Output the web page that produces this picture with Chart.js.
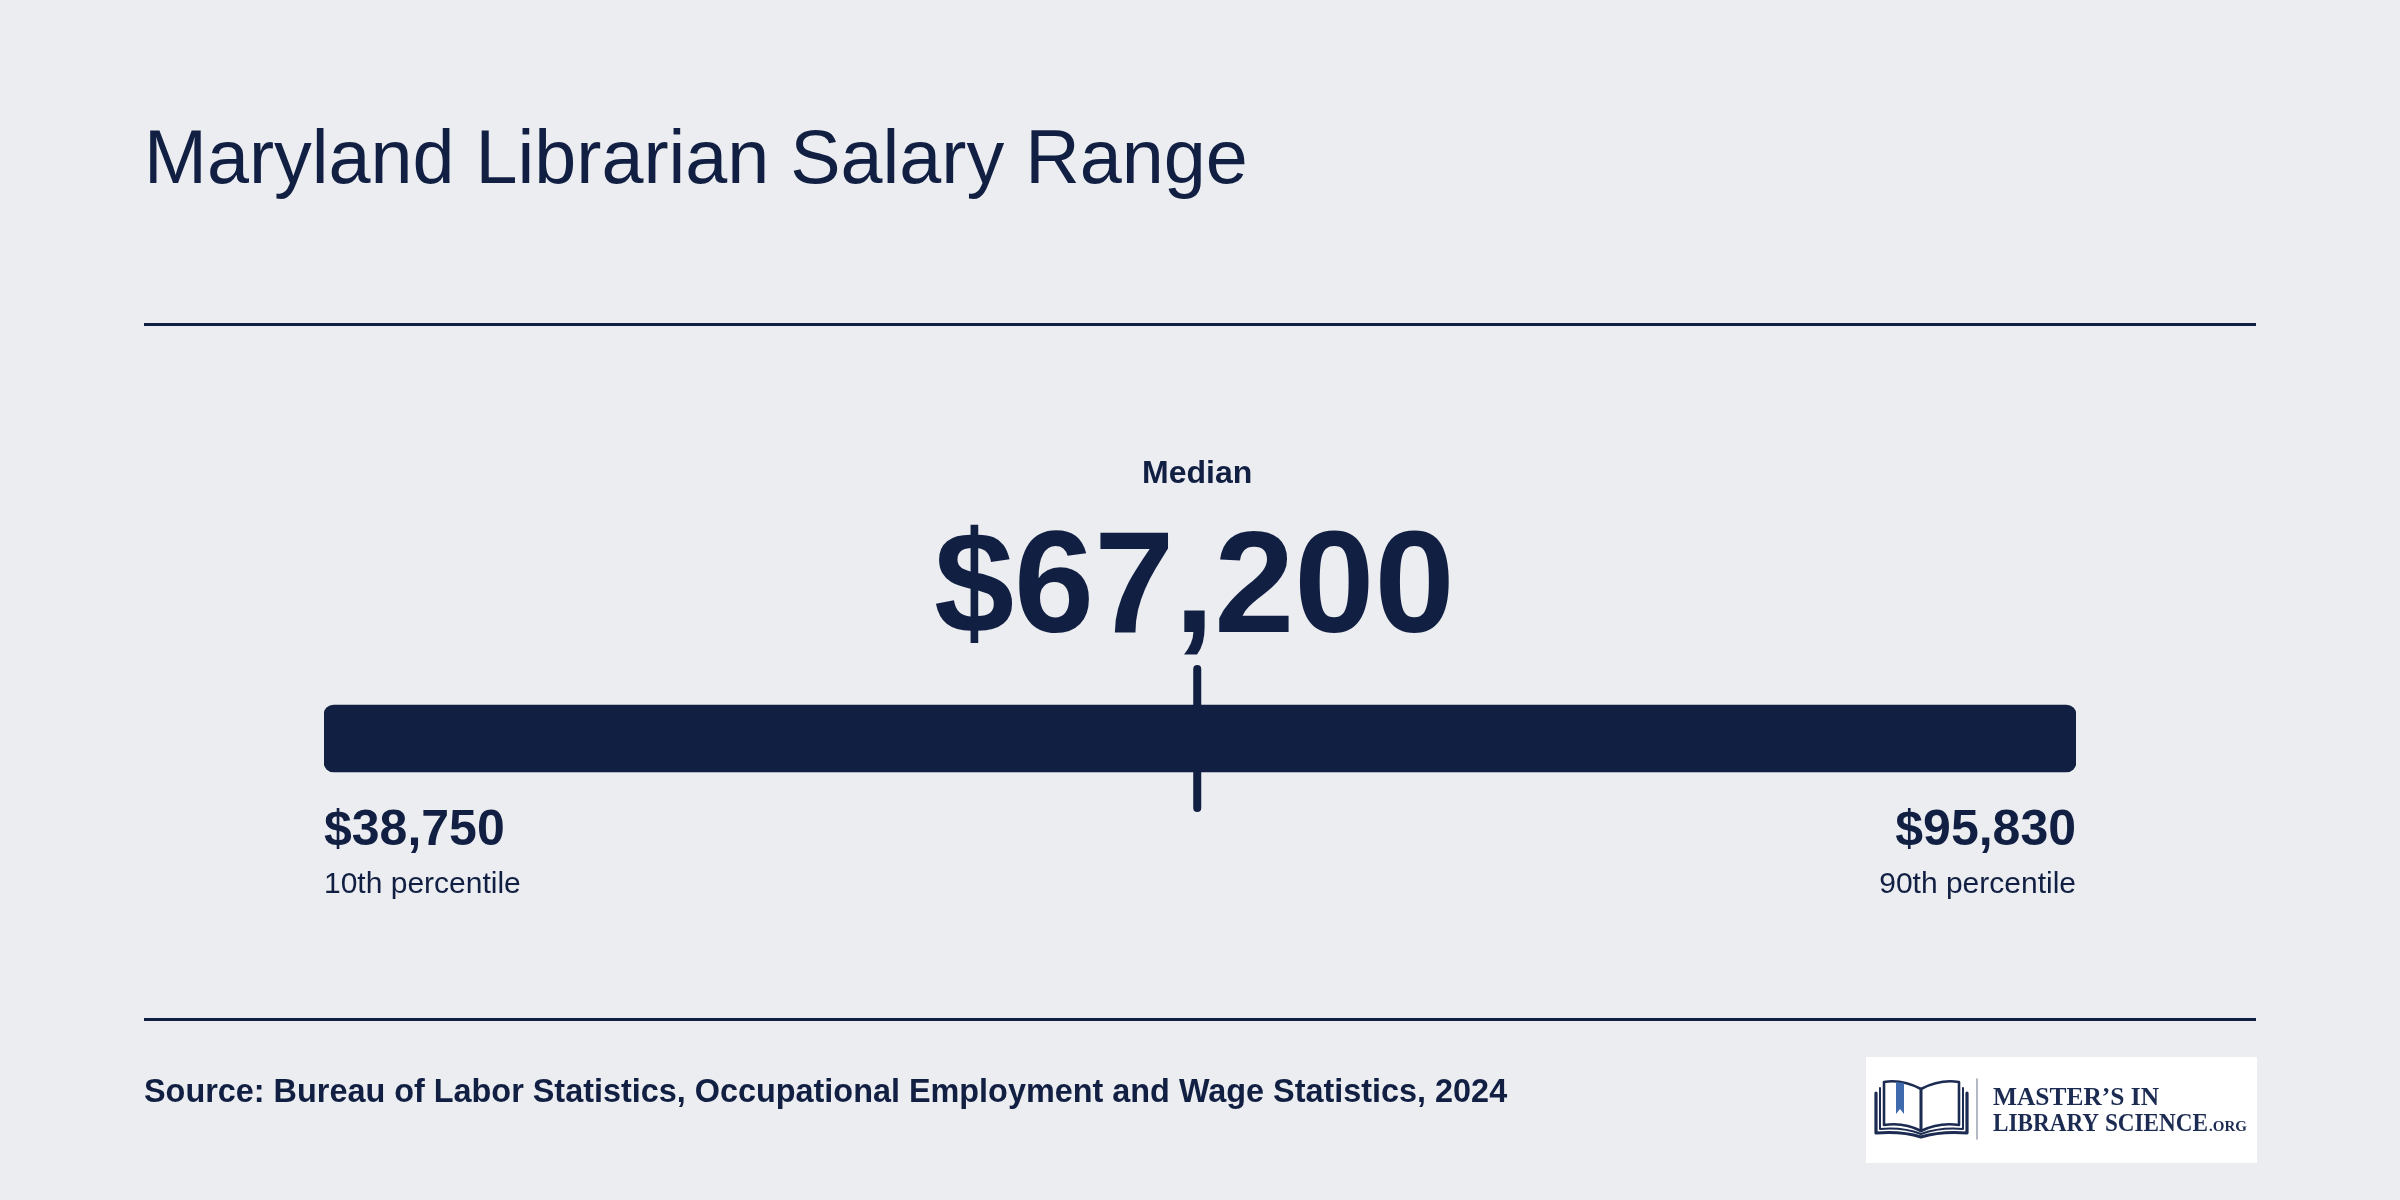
<!DOCTYPE html>
<html>
<head>
<meta charset="utf-8">
<script src="https://cdn.jsdelivr.net/npm/chart.js@4.4.1/dist/chart.umd.min.js"></script>
<style>
  html, body { margin: 0; padding: 0; background: #ECEDF1; }
  canvas { display: block; }
</style>
</head>
<body>
<canvas id="c" width="2400" height="1200"></canvas>
<script>
// ---- data ----
const categories = ['Maryland Librarians'];
const percentileNames = ['10th percentile', 'Median', '90th percentile'];
const salaryValues = [38750, 67200, 95830];
const titleText = 'Maryland Librarian Salary Range';
const sourceText = 'Source: Bureau of Labor Statistics, Occupational Employment and Wage Statistics, 2024';

const NAVY = '#111F42';
const BG = '#ECEDF1';
const SANS = '"Liberation Sans", Arial, Helvetica, sans-serif';
const SERIF = '"Liberation Serif", "DejaVu Serif", serif';

const fmt = v => '$' + v.toLocaleString('en-US');

const decorPlugin = {
  id: 'decor',
  beforeDraw(chart) {
    const ctx = chart.ctx;
    ctx.save();
    ctx.fillStyle = BG;
    ctx.fillRect(0, 0, chart.width, chart.height);

    // title
    ctx.fillStyle = NAVY;
    ctx.textBaseline = 'alphabetic';
    ctx.textAlign = 'left';
    ctx.font = '75.5px ' + SANS;
    ctx.fillText(titleText, 144, 183);

    // rules
    ctx.fillStyle = NAVY;
    ctx.fillRect(144, 323, 2112, 3);
    ctx.fillRect(144, 1018, 2112, 3);

    // source
    ctx.font = 'bold 32.4px ' + SANS;
    ctx.fillText(sourceText, 144, 1102);

    // logo
    ctx.fillStyle = '#FFFFFF';
    ctx.fillRect(1866, 1057, 391, 106);
    const LN = '#1C2B52';
    ctx.strokeStyle = LN;
    ctx.lineJoin = 'round';
    ctx.lineCap = 'round';
    // pages
    ctx.lineWidth = 2.6;
    ctx.beginPath();
    ctx.moveTo(1921, 1089);
    ctx.quadraticCurveTo(1902, 1079, 1884, 1082);
    ctx.lineTo(1884, 1125);
    ctx.quadraticCurveTo(1904, 1122, 1921, 1131);
    ctx.closePath();
    ctx.stroke();
    ctx.beginPath();
    ctx.moveTo(1921, 1089);
    ctx.quadraticCurveTo(1940, 1079, 1959, 1082);
    ctx.lineTo(1959, 1125);
    ctx.quadraticCurveTo(1939, 1122, 1921, 1131);
    ctx.closePath();
    ctx.stroke();
    // inner cover line
    ctx.lineWidth = 2;
    ctx.beginPath();
    ctx.moveTo(1880, 1088);
    ctx.lineTo(1880, 1129);
    ctx.quadraticCurveTo(1903, 1127, 1921, 1134);
    ctx.quadraticCurveTo(1940, 1127, 1963, 1129);
    ctx.lineTo(1963, 1088);
    ctx.stroke();
    // outer cover
    ctx.lineWidth = 3.2;
    ctx.beginPath();
    ctx.moveTo(1876, 1093);
    ctx.lineTo(1876, 1133);
    ctx.quadraticCurveTo(1902, 1131, 1921, 1137);
    ctx.quadraticCurveTo(1941, 1131, 1967, 1133);
    ctx.lineTo(1967, 1093);
    ctx.stroke();
    // bookmark
    ctx.fillStyle = '#3F6AAE';
    ctx.beginPath();
    ctx.moveTo(1896, 1082);
    ctx.lineTo(1904, 1083);
    ctx.lineTo(1904, 1114);
    ctx.lineTo(1900, 1109);
    ctx.lineTo(1896, 1114);
    ctx.closePath();
    ctx.fill();
    // divider
    ctx.strokeStyle = '#9AA0AE';
    ctx.lineWidth = 1.5;
    ctx.beginPath();
    ctx.moveTo(1977, 1079);
    ctx.lineTo(1977, 1139);
    ctx.stroke();
    // logo text
    ctx.fillStyle = LN;
    ctx.font = 'bold 26px ' + SERIF;
    ctx.fillText('MASTER\u2019S IN', 1993, 1105, 166);
    ctx.fillText('LIBRARY SCIENCE', 1993, 1131, 215);
    ctx.font = 'bold 15px ' + SERIF;
    ctx.fillText('.ORG', 2209, 1131, 40);
    ctx.restore();
  },
  afterDatasetsDraw(chart) {
    const ctx = chart.ctx;
    const x = chart.scales.x;
    const bar = chart.getDatasetMeta(0).data[0];
    const half = bar.height / 2;
    const p10 = salaryValues[0], med = salaryValues[1], p90 = salaryValues[2];
    const xMin = x.getPixelForValue(p10);
    const xMed = x.getPixelForValue(med);
    const xMax = x.getPixelForValue(p90);
    ctx.save();
    // median marker
    ctx.strokeStyle = NAVY;
    ctx.lineWidth = 8;
    ctx.lineCap = 'round';
    ctx.beginPath();
    ctx.moveTo(xMed, bar.y - half - 36);
    ctx.lineTo(xMed, bar.y + half + 36);
    ctx.stroke();

    ctx.fillStyle = NAVY;
    ctx.textBaseline = 'alphabetic';
    // median labels
    ctx.textAlign = 'center';
    ctx.font = 'bold 32px ' + SANS;
    ctx.fillText(percentileNames[1], xMed, 483);
    ctx.font = 'bold 144px ' + SANS;
    ctx.fillText(fmt(med), xMed - 3, 632);

    // end labels
    ctx.textAlign = 'left';
    ctx.font = 'bold 50px ' + SANS;
    ctx.fillText(fmt(p10), xMin, 845);
    ctx.font = '30px ' + SANS;
    ctx.fillText(percentileNames[0], xMin, 893);
    ctx.textAlign = 'right';
    ctx.font = 'bold 50px ' + SANS;
    ctx.fillText(fmt(p90), xMax, 845);
    ctx.font = '30px ' + SANS;
    ctx.fillText(percentileNames[2], xMax, 893);
    ctx.restore();
  }
};

new Chart(document.getElementById('c'), {
  type: 'bar',
  data: {
    labels: categories,
    datasets: [{
      label: 'Salary range',
      data: [[salaryValues[0], salaryValues[2]]],
      backgroundColor: NAVY,
      borderRadius: 10,
      borderSkipped: false,
      barThickness: 67
    }]
  },
  options: {
    indexAxis: 'y',
    responsive: false,
    animation: false,
    devicePixelRatio: 1,
    layout: { padding: { left: 324, right: 324, top: 672, bottom: 395 } },
    scales: {
      x: { type: 'linear', min: salaryValues[0], max: salaryValues[2], display: false },
      y: { display: false }
    },
    plugins: { legend: { display: false }, tooltip: { enabled: false }, title: { display: false } }
  },
  plugins: [decorPlugin]
});
</script>
</body>
</html>
